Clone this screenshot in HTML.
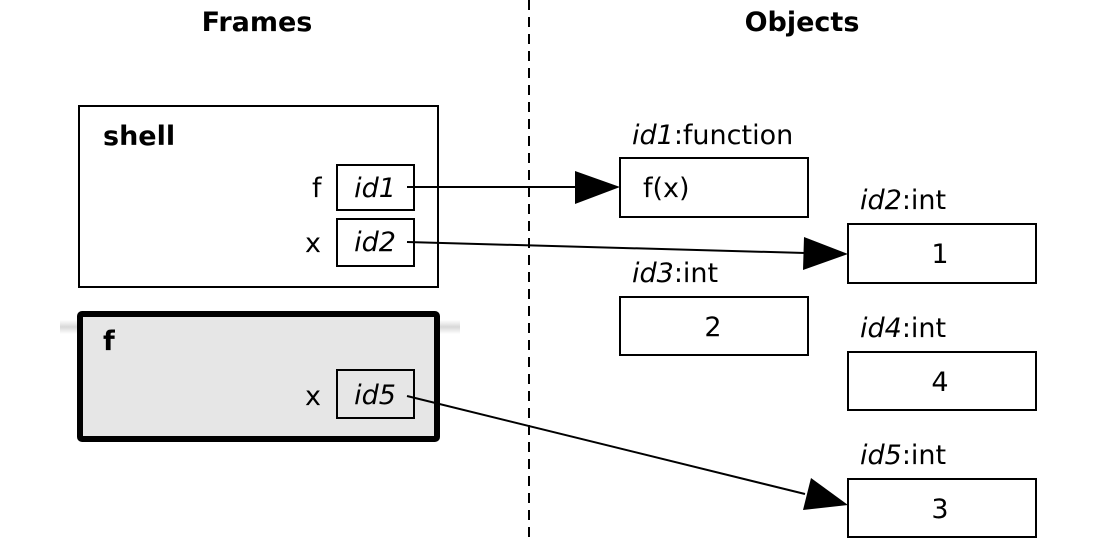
<!DOCTYPE html>
<html><head><style>html,body{margin:0;padding:0;background:#fff;}svg{display:block}</style></head>
<body>
<svg width="1112" height="541" viewBox="0 0 1112 541" xmlns="http://www.w3.org/2000/svg" font-family="DejaVu Sans, Liberation Sans, sans-serif" font-size="27">
<defs>
<linearGradient id="sh" x1="0" y1="0" x2="0" y2="1">
<stop offset="0" stop-color="#fff"/><stop offset="0.5" stop-color="#d8d8d8"/><stop offset="1" stop-color="#fff"/>
</linearGradient>
</defs>
<line x1="529" y1="0" x2="529" y2="541" stroke="#000" stroke-width="2" stroke-dasharray="10,7"/>
<text x="257" y="31" text-anchor="middle" font-weight="bold">Frames</text>
<text x="802" y="31" text-anchor="middle" font-weight="bold">Objects</text>
<rect x="79" y="106" width="359" height="181" fill="#fff" stroke="#000" stroke-width="2"/>
<text x="103" y="145" font-weight="bold">shell</text>
<text x="312" y="197">f</text>
<rect x="337" y="165" width="77" height="45" fill="#fff" stroke="#000" stroke-width="2"/>
<text x="375" y="197" text-anchor="middle" font-style="italic">id1</text>
<text x="305" y="252">x</text>
<rect x="337" y="219" width="77" height="47" fill="#fff" stroke="#000" stroke-width="2"/>
<text x="375" y="251" text-anchor="middle" font-style="italic">id2</text>
<rect x="60" y="320" width="400" height="14" fill="url(#sh)"/>
<rect x="80" y="314" width="357" height="125" fill="#e6e6e6" stroke="#000" stroke-width="6" rx="2"/>
<text x="103" y="350" font-weight="bold">f</text>
<text x="305" y="405">x</text>
<rect x="337" y="370" width="77" height="48" fill="#e6e6e6" stroke="#000" stroke-width="2"/>
<text x="375" y="404" text-anchor="middle" font-style="italic">id5</text>
<text x="632" y="144"><tspan font-style="italic">id1</tspan>:function</text>
<rect x="620" y="158" width="188" height="59" fill="#fff" stroke="#000" stroke-width="2"/>
<text x="643" y="197">f(x)</text>
<text x="860" y="209"><tspan font-style="italic">id2</tspan>:int</text>
<rect x="848" y="224" width="188" height="59" fill="#fff" stroke="#000" stroke-width="2"/>
<text x="940" y="263" text-anchor="middle">1</text>
<text x="632" y="282"><tspan font-style="italic">id3</tspan>:int</text>
<rect x="620" y="297" width="188" height="58" fill="#fff" stroke="#000" stroke-width="2"/>
<text x="713" y="336" text-anchor="middle">2</text>
<text x="860" y="337"><tspan font-style="italic">id4</tspan>:int</text>
<rect x="848" y="352" width="188" height="58" fill="#fff" stroke="#000" stroke-width="2"/>
<text x="940" y="391" text-anchor="middle">4</text>
<text x="860" y="464"><tspan font-style="italic">id5</tspan>:int</text>
<rect x="848" y="479" width="188" height="58" fill="#fff" stroke="#000" stroke-width="2"/>
<text x="940" y="518" text-anchor="middle">3</text>
<g stroke="#000" stroke-width="2">
<line x1="407" y1="187" x2="580" y2="187"/>
<line x1="407" y1="242" x2="805" y2="253"/>
<line x1="407" y1="396" x2="805" y2="494"/>
</g>
<polygon points="620,187 575,171 575,204" fill="#000"/>
<polygon points="848,254 804,237 803,270" fill="#000"/>
<polygon points="848,505 811,478 803,510" fill="#000"/>
</svg>
</body></html>
